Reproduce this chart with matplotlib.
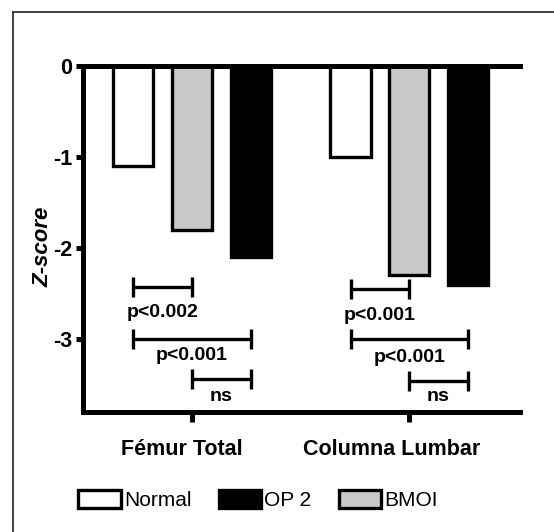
import matplotlib
matplotlib.use('Agg')
import matplotlib.pyplot as plt
from matplotlib.lines import Line2D
import matplotlib.transforms as mtransforms
import numpy as np

# ---- data ----
categories = ['Fémur Total', 'Columna Lumbar']
normal = [-1.1, -1.0]
bmoi = [-1.8, -2.3]
op2 = [-2.1, -2.4]
yticks = [0, -1, -2, -3]

# significance comparisons: group, bar a, bar b (0=Normal,1=BMOI,2=OP 2)
comp_group = [0, 0, 0, 1, 1, 1]
comp_a = [0, 0, 1, 0, 0, 1]
comp_b = [1, 2, 2, 1, 2, 2]
comp_y = [-2.43, -3.0, -3.44, -2.45, -3.0, -3.46]
comp_label = ['p<0.002', 'p<0.001', 'ns', 'p<0.001', 'p<0.001', 'ns']
comp_label_y = [-2.71, -3.18, -3.63, -2.74, -3.2, -3.63]

plt.rcParams['font.family'] = ['Liberation Sans', 'DejaVu Sans']

W, H = 554, 532
fig = plt.figure(figsize=(W / 100, H / 100), dpi=100)
ax = fig.add_axes([83 / W, 1 - 412 / H, (520 - 83) / W, (412 - 66) / H])

x = np.arange(len(categories))
offsets = [-0.27, 0.0, 0.27]
width = 0.185
lw = 2.4
b_normal = ax.bar(x + offsets[0], normal, width, color='white', edgecolor='black', linewidth=lw, label='Normal')
b_bmoi = ax.bar(x + offsets[1], bmoi, width, color='#c8caca', edgecolor='black', linewidth=lw, label='BMOI')
b_op2 = ax.bar(x + offsets[2], op2, width, color='black', edgecolor='black', linewidth=lw, label='OP 2')

# brackets
cap = 0.11
for g, a, b, y, lab, ly in zip(comp_group, comp_a, comp_b, comp_y, comp_label, comp_label_y):
    x1 = g + offsets[a]
    x2 = g + offsets[b]
    ax.plot([x1, x2], [y, y], color='black', lw=2.4, solid_capstyle='butt')
    ax.plot([x1, x1], [y - cap, y + cap], color='black', lw=2.4, solid_capstyle='butt')
    ax.plot([x2, x2], [y - cap, y + cap], color='black', lw=2.4, solid_capstyle='butt')
    ax.text((x1 + x2) / 2, ly, lab, ha='center', va='center', fontsize=14, fontweight='bold')

ax.set_xlim(-0.502, 1.51)
ax.set_ylim(-3.8, 0)
ax.set_yticks(yticks)
ax.set_yticklabels([str(t) for t in yticks])
ax.set_xticks(x)
ax.set_xticklabels(categories)

for s in ['left', 'bottom', 'top']:
    ax.spines[s].set_linewidth(3.6)
ax.spines['right'].set_visible(False)
ax.tick_params(axis='y', direction='out', length=5, width=3.6, pad=3, labelsize=15.5)
ax.tick_params(axis='x', direction='out', length=7.5, width=3.6, pad=12, labelsize=15.5)
for t in ax.get_yticklabels() + ax.get_xticklabels():
    t.set_fontweight('bold')

# category labels sit slightly left of their ticks in the reference
label_shift_px = [-10, -18]
for t, dx in zip(ax.get_xticklabels(), label_shift_px):
    t.set_transform(t.get_transform() + mtransforms.ScaledTranslation(dx / 100, 0, fig.dpi_scale_trans))

fig.text(43 / W, 1 - 247 / H, 'Z-score', rotation=90, ha='center', va='center',
         fontsize=16, fontweight='bold', fontstyle='italic')

fig.legend(handles=[b_normal, b_op2, b_bmoi], labels=['Normal', 'OP 2', 'BMOI'],
           ncol=3, loc='center', bbox_to_anchor=(258 / W, 1 - 500 / H), frameon=False,
           fontsize=15, handlelength=2.05, handleheight=1.0, handletextpad=0.15,
           columnspacing=1.3, borderpad=0)

# outer frame lines
fig.add_artist(Line2D([13 / W, 1], [1 - 12 / H, 1 - 12 / H], transform=fig.transFigure, color='#333333', lw=1.3))
fig.add_artist(Line2D([13 / W, 13 / W], [0, 1 - 12 / H], transform=fig.transFigure, color='#333333', lw=1.3))

fig.savefig('out.png', dpi=100, facecolor='white')
